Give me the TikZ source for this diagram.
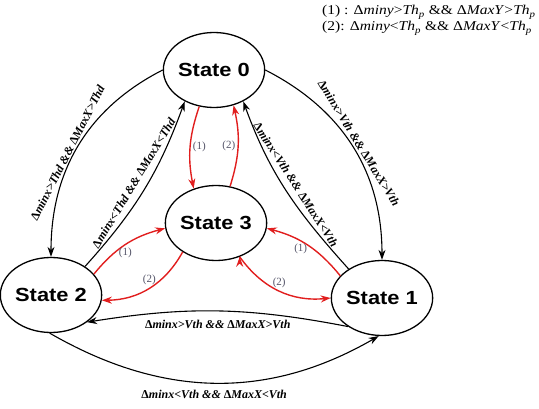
\documentclass[tikz,border=0pt]{standalone}
\usepackage{graphicx}
\usepackage{fontspec}
\setmainfont{Liberation Serif}
\setsansfont{Liberation Sans}
\usetikzlibrary{shapes.geometric,arrows.meta}

\definecolor{trred}{RGB}{225,30,30}
\definecolor{numgray}{RGB}{85,85,105}
\newcommand{\wide}[1]{\scalebox{1.15}[1]{#1}}
\newcommand{\dl}{{\upshape Δ}}

\begin{document}
\begin{tikzpicture}[x=1pt, y=1pt,
                    state node/.style={ellipse,draw,line width=1.3pt,minimum width=86pt,minimum height=75pt,
                                       inner sep=0pt,font=\sffamily\bfseries\fontsize{19}{21}\selectfont},
                    move/.style={line width=1.1pt,-{Stealth[length=10pt,width=7pt]}},
                    jump/.style={move,draw=trred,line width=1.4pt},
                    cond/.style={font=\bfseries\itshape\fontsize{12}{14}\selectfont,inner sep=1.5pt},
                    num/.style={font=\fontsize{11}{13}\selectfont,text=numgray,inner sep=2pt}]

  \useasboundingbox (0,0) rectangle (539,-409);

  \node[state node] (0) at (214,-70) {\wide{State 0}};
  \node[state node] (3) at (216,-223) {\wide{State 3}};
  \node[state node] (2) at (51,-295) {\wide{State 2}};
  \node[state node] (1) at (382,-298) {\wide{State 1}};

  \node[anchor=base west,inner sep=0pt,font=\fontsize{13.5}{16}\selectfont] (key1) at (322,-15)
    {\wide{(1) : \dl\textit{miny}>\textit{Th}\textsubscript{\textit{p}} \&\& \dl\textit{MaxY}>\textit{Th}\textsubscript{\textit{p}}}};
  \node[anchor=base west,inner sep=0pt,font=\fontsize{13.5}{16}\selectfont] (key2) at (322,-31)
    {\wide{(2): \dl\textit{miny}<\textit{Th}\textsubscript{\textit{p}} \&\& \dl\textit{MaxY}<\textit{Th}\textsubscript{\textit{p}}}};

  \path[move,every node/.style={cond}]
    (0.west) edge[out=207,in=90] node[sloped,above,pos=0.55] {\dl minx>Thd \&\& \dl MaxX>Thd} (2.north)
    (2.40)   edge[out=48,in=250] node[sloped,above=6pt,pos=0.5] {\dl minx<Thd \&\& \dl MaxX<Thd} (0.227)
    (0.east) edge[out=-27,in=90] node[sloped,above=1pt,pos=0.5] {\dl minx>Vth \&\& \dl MaxX>Vth} (1.north)
    (1.139)  edge[out=132,in=290] node[sloped,above=5pt,pos=0.5] {\dl minx<Vth \&\& \dl MaxX<Vth} (0.313)
    (1.220)  edge[bend right=10] node[below=7pt] {\dl minx>Vth \&\& \dl MaxX>Vth} (2.323)
    (2.268)  edge[out=-30,in=210] node[below=5pt] {\dl minx<Vth \&\& \dl MaxX<Vth} (1.265);

  \path[jump,every node/.style={num}]
    (0.248) edge[bend right=15] node[right] {(1)} (3.123)
    (3.69)  edge[bend right=15] node[left] {(2)} (0.299)
    (2.26)  edge[bend left=18] node[below] {(1)} (3.186)
    (3.221) edge[bend left=30] node[above] {(2)} (2.354)
    (1.152) edge[bend right=18] node[below,pos=0.6] {(1)} (3.354)
    (3.305) edge[bend right=30] node[above] {(2)} (1.180);
\end{tikzpicture}
\end{document}
